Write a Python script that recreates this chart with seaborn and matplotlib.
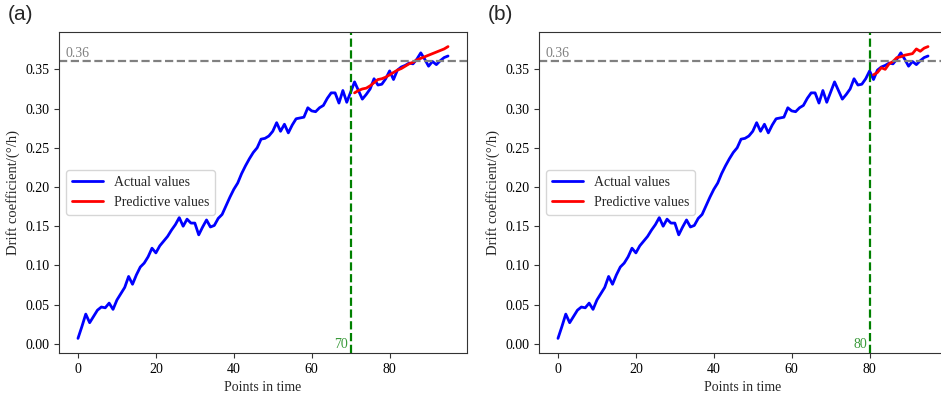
import numpy as np
import pandas as pd
import matplotlib
matplotlib.use("Agg")
import matplotlib.pyplot as plt
import seaborn as sns

# Actual drift coefficient values, points 0..95 (same series in both panels)
actual = [
    0.007, 0.022, 0.038, 0.027, 0.035, 0.043, 0.047, 0.046, 0.052, 0.044,
    0.056, 0.064, 0.072, 0.086, 0.076, 0.088, 0.098, 0.103, 0.111, 0.122,
    0.116, 0.125, 0.131, 0.137, 0.145, 0.152, 0.161, 0.150, 0.159, 0.154,
    0.154, 0.139, 0.149, 0.158, 0.149, 0.151, 0.160, 0.165, 0.176, 0.187,
    0.197, 0.205, 0.217, 0.227, 0.236, 0.244, 0.250, 0.261, 0.262, 0.265,
    0.271, 0.282, 0.271, 0.280, 0.269, 0.279, 0.287, 0.288, 0.289, 0.301,
    0.297, 0.296, 0.301, 0.304, 0.313, 0.320, 0.320, 0.307, 0.323, 0.308,
    0.321, 0.334, 0.323, 0.312, 0.318, 0.325, 0.338, 0.330, 0.331, 0.338,
    0.348, 0.337, 0.349, 0.353, 0.355, 0.358, 0.357, 0.363, 0.371, 0.363,
    0.354, 0.360, 0.356, 0.361, 0.365, 0.367,
]

# Predictions, panel (a) starts after point 70, panel (b) after point 80
pred_a_start = 71
pred_a = [
    0.320, 0.323, 0.325, 0.326, 0.329, 0.333, 0.337, 0.338, 0.340, 0.343,
    0.346, 0.349, 0.351, 0.354, 0.357, 0.359, 0.362, 0.364, 0.366, 0.368,
    0.370, 0.372, 0.374, 0.376, 0.379,
]
pred_b_start = 81
pred_b = [
    0.343, 0.346, 0.352, 0.350, 0.357, 0.360, 0.365, 0.366, 0.368, 0.369,
    0.370, 0.376, 0.373, 0.377, 0.379,
]

split_points = [70, 80]
threshold = 0.36
panel_labels = ["(a)", "(b)"]

sns.set_style("ticks")
plt.rcParams["font.family"] = ["Liberation Serif", "DejaVu Serif"]
plt.rcParams["axes.edgecolor"] = "#333333"
plt.rcParams["xtick.color"] = "#333333"
plt.rcParams["ytick.color"] = "#333333"
plt.rcParams["xtick.labelcolor"] = "black"
plt.rcParams["ytick.labelcolor"] = "black"


def draw_panel(ax, pred, start, split, tag):
    t = np.arange(len(actual))
    sns.lineplot(x=t, y=actual, ax=ax, color="blue", lw=2, label="Actual values")
    tp = np.arange(start, start + len(pred))
    sns.lineplot(x=tp, y=pred, ax=ax, color="red", lw=2, label="Predictive values")
    ax.axhline(threshold, color="gray", ls="--", lw=1.6)
    ax.axvline(split, color="green", ls="--", lw=1.6)
    ax.text(-3.3, threshold + 0.002, f"{threshold:.2f}", color="gray",
            fontsize=10, va="bottom")
    ax.text(split - 0.6, -0.001, str(split), color="#3a9a3a", fontsize=10,
            ha="right", va="center")
    ax.set_xlabel("Points in time", fontsize=10)
    ax.set_ylabel("Drift coefficient/(°/h)", fontsize=10.5)
    ax.set_yticks(np.arange(0, 0.36, 0.05))
    ax.set_yticklabels([f"{v:.2f}" for v in np.arange(0, 0.36, 0.05)])
    ax.tick_params(labelsize=10)
    ax.legend(loc="center left", fontsize=10, frameon=True, handlelength=2.2)
    ax.text(-0.127, 1.085, tag, transform=ax.transAxes, fontsize=15,
            family="Liberation Sans", va="top", ha="left")


fig = plt.figure(figsize=(9.41, 3.93), dpi=100)
ax1 = fig.add_axes([0.0632, 0.1018, 0.4326, 0.8168])
ax2 = fig.add_axes([0.5733, 0.1018, 0.4326, 0.8168])

draw_panel(ax1, pred_a, pred_a_start, split_points[0], panel_labels[0])
draw_panel(ax2, pred_b, pred_b_start, split_points[1], panel_labels[1])

fig.savefig("out.png", dpi=100)
